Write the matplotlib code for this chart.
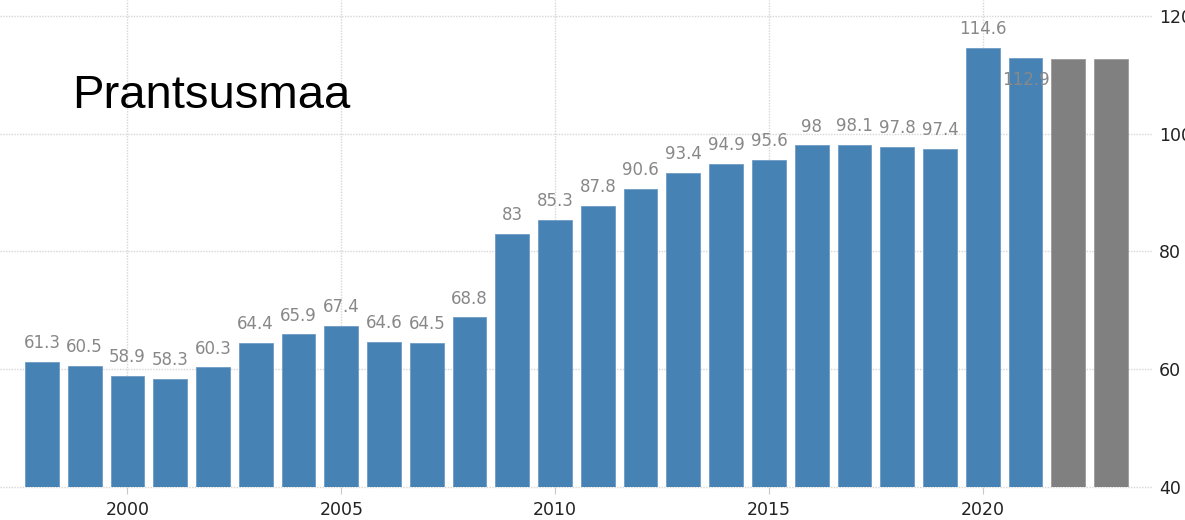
import numpy as np
import matplotlib.pyplot as plt

years = list(range(1998, 2024))
values = [61.3, 60.5, 58.9, 58.3, 60.3, 64.4, 65.9, 67.4, 64.6, 64.5, 68.8,
          83, 85.3, 87.8, 90.6, 93.4, 94.9, 95.6, 98, 98.1, 97.8, 97.4,
          114.6, 112.9, 112.6, 112.6]
labels = ['61.3', '60.5', '58.9', '58.3', '60.3', '64.4', '65.9', '67.4', '64.6',
          '64.5', '68.8', '83', '85.3', '87.8', '90.6', '93.4', '94.9', '95.6',
          '98', '98.1', '97.8', '97.4', '114.6', '112.9', '', '']
forecast = [False] * 24 + [True, True]
xticks = [2000, 2005, 2010, 2015, 2020]
yticks = [40, 60, 80, 100, 120]

fig = plt.figure(figsize=(11.85, 5.2), dpi=100)
ax = fig.add_axes([0.0, 0.0635, 0.9722, 0.9365])

colors = ['#808080' if f else '#4682b4' for f in forecast]
edges = ['#9a9a9a' if f else '#6e9cc6' for f in forecast]
ax.bar(years, np.array(values) - 40, bottom=40, width=0.79, color=colors,
       edgecolor=edges, linewidth=0.6, zorder=2)

for yr, v, lab in zip(years, values, labels):
    if not lab:
        continue
    # the 2021 label sits inside the bar, below its top
    dy = -20 if yr == 2021 else 10
    ax.annotate(lab, (yr, v), xytext=(0, dy), textcoords='offset points',
                ha='center', va='baseline', fontsize=12, color='#888888',
                zorder=3)

ax.set_xlim(1997.02, 2023.96)
ax.set_ylim(40, 122.7)
ax.set_xticks(xticks)
ax.set_yticks(yticks)
ax.yaxis.tick_right()
ax.tick_params(axis='y', length=0, pad=5, labelsize=12.5, labelcolor='#222222')
ax.tick_params(axis='x', length=5, width=0.8, color='#c8c8c8', pad=5,
               labelsize=12.5, labelcolor='#222222')
for s in ax.spines.values():
    s.set_visible(False)
ax.grid(True, color='#d6d6d6', linestyle=(0, (1, 1)), linewidth=1, zorder=0)
ax.set_axisbelow(True)
for gl in ax.get_ygridlines():
    gl.set_clip_on(False)

ax.text(72, 520 - 108, 'Prantsusmaa', transform=None, fontsize=34,
        family='Liberation Sans', color='black', va='baseline')

fig.savefig('out.png', dpi=100)
